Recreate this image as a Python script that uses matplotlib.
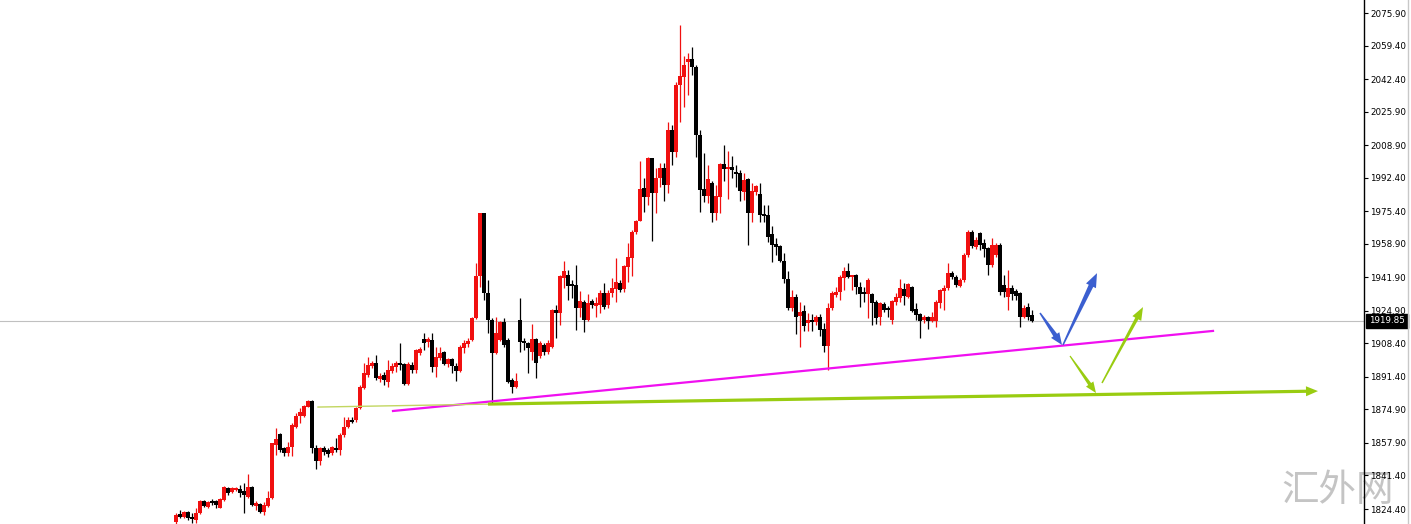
import numpy as np
import matplotlib
matplotlib.use('Agg')
import matplotlib.pyplot as plt
from matplotlib.patches import Polygon
from matplotlib.lines import Line2D
from matplotlib.transforms import blended_transform_factory

# OHLC (one bar every 4 px)
opens = [
    1817.9, 1821.9, 1820.4, 1822.9, 1820.4, 1818.9, 1822.4, 1828.5, 1825.5, 1828.0,
    1828.5, 1825.0, 1829.0, 1835.1, 1833.1, 1834.1, 1834.6, 1833.6, 1830.6, 1835.6,
    1826.0, 1827.0, 1822.9, 1826.0, 1830.0, 1856.9, 1862.5, 1855.4, 1852.8, 1855.9,
    1866.1, 1871.6, 1871.6, 1876.2, 1879.2, 1855.4, 1848.8, 1855.4, 1854.4, 1852.8,
    1855.4, 1854.4, 1862.0, 1866.0, 1869.6, 1869.6, 1875.6, 1885.8, 1892.4, 1896.9,
    1898.5, 1890.3, 1892.4, 1888.8, 1894.4, 1896.4, 1898.5, 1898.0, 1887.8, 1897.4,
    1894.9, 1903.5, 1910.6, 1909.1, 1910.1, 1896.4, 1901.0, 1904.0, 1898.0, 1900.5,
    1896.9, 1894.4, 1906.1, 1908.1, 1910.1, 1921.3, 1942.6, 1974.5, 1934.0, 1920.3,
    1903.5, 1910.1, 1919.3, 1910.1, 1889.8, 1886.3, 1920.3, 1909.6, 1908.6, 1904.0,
    1910.6, 1902.0, 1907.6, 1904.0, 1906.6, 1925.3, 1923.8, 1941.6, 1943.1, 1938.5,
    1938.0, 1926.3, 1929.4, 1920.3, 1929.9, 1927.4, 1927.9, 1933.9, 1927.9, 1933.9,
    1936.0, 1939.0, 1936.0, 1947.1, 1951.7, 1964.9, 1970.5, 1987.2, 1982.6, 2002.4,
    1984.7, 1992.3, 1997.3, 1988.7, 2016.6, 2005.4, 2039.4, 2043.5, 2051.1, 2052.6,
    2048.5, 2014.1, 1986.7, 1983.1, 1989.7, 1974.5, 1982.6, 1999.4, 1996.8, 1997.8,
    1994.8, 1994.8, 1985.2, 1991.7, 1974.5, 1985.2, 1984.1, 1974.0, 1973.5, 1963.9,
    1958.8, 1957.8, 1950.2, 1941.1, 1926.3, 1931.9, 1922.3, 1924.8, 1918.7, 1920.3,
    1919.3, 1921.8, 1915.7, 1907.1, 1926.3, 1932.9, 1934.4, 1941.6, 1945.1, 1942.1,
    1943.1, 1937.0, 1933.9, 1933.4, 1933.4, 1929.4, 1921.8, 1928.4, 1926.3, 1920.3,
    1929.4, 1931.4, 1936.0, 1931.9, 1937.0, 1925.8, 1923.3, 1920.3, 1921.8, 1919.8,
    1919.8, 1928.9, 1935.0, 1936.5, 1944.1, 1942.1, 1937.5, 1940.5, 1953.2, 1964.9,
    1957.3, 1964.4, 1959.3, 1956.8, 1948.2, 1953.2, 1958.3, 1938.0, 1931.9, 1936.5,
    1935.0, 1934.0, 1921.8, 1926.8, 1922.8,
]
highs = [
    1822.4, 1823.9, 1823.4, 1823.4, 1822.4, 1824.9, 1829.0, 1829.0, 1828.5, 1829.5,
    1829.0, 1830.0, 1836.1, 1835.6, 1835.6, 1835.6, 1836.6, 1837.6, 1842.2, 1836.1,
    1828.5, 1827.5, 1828.0, 1833.6, 1857.9, 1865.5, 1863.0, 1855.9, 1858.4, 1868.1,
    1873.1, 1875.6, 1877.2, 1879.7, 1879.7, 1856.9, 1855.9, 1856.4, 1855.4, 1856.4,
    1860.4, 1863.0, 1871.1, 1871.1, 1871.1, 1876.2, 1887.3, 1898.5, 1901.5, 1899.5,
    1902.5, 1893.4, 1893.9, 1900.0, 1898.5, 1899.5, 1908.6, 1898.5, 1899.0, 1899.0,
    1905.6, 1906.6, 1913.7, 1911.6, 1913.7, 1906.6, 1906.6, 1904.5, 1901.0, 1901.0,
    1898.5, 1907.6, 1910.1, 1911.1, 1921.8, 1949.2, 1974.5, 1974.5, 1940.5, 1921.3,
    1921.8, 1919.8, 1921.3, 1911.1, 1890.8, 1893.4, 1931.4, 1911.1, 1909.1, 1918.2,
    1911.1, 1909.6, 1908.6, 1910.1, 1925.8, 1927.9, 1943.1, 1950.2, 1945.6, 1940.5,
    1948.2, 1935.0, 1930.4, 1933.4, 1930.9, 1931.9, 1935.5, 1939.0, 1935.5, 1941.6,
    1951.7, 1940.5, 1948.2, 1959.3, 1965.9, 1971.0, 2000.9, 1992.3, 2002.9, 2002.4,
    1997.3, 1999.9, 1999.9, 2020.6, 2019.1, 2040.9, 2069.8, 2054.1, 2055.6, 2058.7,
    2049.5, 2016.6, 2004.9, 1998.8, 1990.7, 1988.7, 1999.9, 2009.0, 2005.9, 2003.4,
    1998.8, 1996.3, 1994.8, 1992.3, 1989.7, 1988.7, 1989.7, 1978.6, 1978.6, 1967.9,
    1961.8, 1958.3, 1954.2, 1945.1, 1935.5, 1933.4, 1929.4, 1927.9, 1923.8, 1923.3,
    1922.8, 1923.3, 1918.7, 1928.9, 1935.0, 1937.0, 1943.1, 1947.1, 1949.2, 1943.1,
    1943.6, 1939.5, 1937.0, 1941.6, 1933.9, 1930.4, 1929.4, 1929.4, 1927.4, 1930.4,
    1933.9, 1941.1, 1939.0, 1939.0, 1937.5, 1928.9, 1923.8, 1922.8, 1922.3, 1924.3,
    1930.4, 1936.0, 1938.0, 1949.2, 1945.1, 1943.1, 1941.6, 1954.2, 1965.9, 1965.9,
    1962.3, 1964.9, 1961.3, 1957.3, 1961.8, 1959.3, 1959.3, 1943.1, 1945.6, 1938.0,
    1936.0, 1934.5, 1927.9, 1928.9, 1925.3,
]
lows = [
    1816.9, 1819.9, 1819.9, 1818.9, 1817.4, 1817.4, 1821.9, 1825.5, 1825.0, 1826.5,
    1825.0, 1825.0, 1828.5, 1831.6, 1832.6, 1833.6, 1830.6, 1822.4, 1830.0, 1826.0,
    1823.9, 1822.4, 1821.4, 1825.5, 1829.5, 1851.8, 1853.4, 1851.3, 1851.3, 1851.3,
    1865.5, 1868.1, 1871.1, 1876.2, 1852.8, 1844.7, 1846.8, 1851.8, 1850.8, 1851.8,
    1853.4, 1851.8, 1861.0, 1865.5, 1868.1, 1868.6, 1875.1, 1885.3, 1891.4, 1895.9,
    1889.8, 1888.8, 1887.3, 1886.3, 1893.4, 1893.9, 1894.9, 1887.3, 1887.3, 1893.4,
    1893.4, 1902.5, 1905.1, 1906.6, 1893.9, 1891.4, 1900.0, 1897.4, 1896.4, 1893.4,
    1889.3, 1893.9, 1903.5, 1906.6, 1909.6, 1920.8, 1937.0, 1930.4, 1913.7, 1878.2,
    1903.0, 1909.6, 1906.6, 1888.3, 1883.3, 1885.8, 1904.0, 1905.1, 1893.4, 1900.0,
    1890.8, 1901.0, 1902.5, 1903.0, 1906.1, 1911.1, 1917.7, 1936.5, 1930.4, 1931.4,
    1915.2, 1921.8, 1914.2, 1919.8, 1926.3, 1921.8, 1923.8, 1925.8, 1926.3, 1931.9,
    1929.4, 1934.5, 1934.5, 1939.5, 1942.6, 1963.9, 1970.5, 1975.0, 1978.6, 1960.3,
    1974.5, 1987.7, 1980.6, 1984.7, 1998.8, 2002.9, 2020.6, 2028.2, 2034.3, 2044.5,
    2002.9, 1975.0, 1980.1, 1979.6, 1969.9, 1971.0, 1974.5, 1990.7, 1981.6, 1992.3,
    1987.7, 1980.6, 1981.1, 1958.3, 1969.9, 1983.6, 1969.9, 1969.9, 1959.8, 1949.7,
    1953.2, 1949.7, 1939.0, 1925.3, 1924.8, 1913.2, 1906.6, 1914.7, 1914.7, 1914.7,
    1917.7, 1912.2, 1904.0, 1894.9, 1925.3, 1931.9, 1930.4, 1935.5, 1941.6, 1935.5,
    1933.4, 1926.8, 1929.4, 1921.3, 1917.7, 1918.2, 1917.7, 1924.3, 1921.8, 1918.2,
    1927.9, 1929.4, 1927.9, 1931.4, 1924.3, 1920.3, 1911.1, 1918.7, 1915.7, 1919.3,
    1916.7, 1926.3, 1925.3, 1935.5, 1941.1, 1937.0, 1937.0, 1939.5, 1952.2, 1956.8,
    1956.3, 1955.8, 1952.2, 1943.1, 1947.1, 1952.2, 1932.9, 1931.9, 1925.3, 1930.4,
    1930.4, 1916.7, 1921.3, 1920.3, 1919.3,
]
closes = [
    1821.4, 1820.4, 1822.9, 1819.9, 1819.4, 1822.4, 1828.5, 1826.0, 1828.0, 1827.5,
    1826.5, 1829.5, 1835.6, 1832.6, 1835.1, 1835.1, 1832.6, 1831.6, 1835.6, 1826.5,
    1827.5, 1822.9, 1826.5, 1830.0, 1857.9, 1859.9, 1854.4, 1852.8, 1855.9, 1867.1,
    1871.6, 1873.6, 1876.7, 1879.2, 1855.4, 1848.8, 1855.4, 1853.4, 1852.3, 1855.9,
    1854.4, 1862.0, 1866.0, 1869.6, 1868.6, 1875.6, 1886.3, 1893.4, 1897.4, 1898.5,
    1890.8, 1891.8, 1889.8, 1894.9, 1896.9, 1898.5, 1897.4, 1887.8, 1898.0, 1894.9,
    1905.1, 1905.6, 1908.6, 1910.6, 1896.4, 1901.5, 1903.5, 1898.0, 1900.5, 1896.9,
    1894.4, 1906.6, 1908.6, 1909.6, 1921.3, 1942.6, 1974.5, 1934.0, 1920.3, 1903.5,
    1913.7, 1919.3, 1907.6, 1888.8, 1886.3, 1889.3, 1909.1, 1908.6, 1906.1, 1910.6,
    1898.5, 1908.6, 1904.0, 1908.6, 1925.3, 1923.8, 1942.6, 1945.1, 1937.5, 1937.5,
    1926.3, 1929.9, 1920.3, 1928.9, 1927.9, 1928.9, 1933.9, 1926.8, 1933.9, 1936.5,
    1939.5, 1935.5, 1947.7, 1952.2, 1964.9, 1970.5, 1986.7, 1982.6, 2002.4, 1984.7,
    1992.3, 1997.3, 1988.7, 2016.6, 2005.4, 2039.4, 2044.0, 2049.5, 2052.6, 2048.5,
    2014.1, 1986.2, 1983.1, 1991.7, 1974.5, 1983.1, 1999.4, 1996.8, 1997.8, 1996.3,
    1994.3, 1985.7, 1991.2, 1974.5, 1985.7, 1988.2, 1973.5, 1973.0, 1962.3, 1958.3,
    1957.3, 1950.2, 1941.1, 1926.3, 1931.9, 1921.8, 1924.3, 1917.2, 1920.3, 1919.3,
    1921.8, 1915.2, 1907.1, 1926.3, 1933.9, 1934.4, 1942.1, 1945.1, 1942.1, 1943.1,
    1937.0, 1933.4, 1933.4, 1940.5, 1928.9, 1921.3, 1928.9, 1925.3, 1925.3, 1929.9,
    1931.9, 1936.5, 1932.4, 1938.5, 1924.8, 1922.8, 1919.8, 1921.8, 1919.8, 1921.8,
    1929.4, 1935.5, 1936.5, 1944.1, 1942.1, 1938.0, 1940.5, 1953.2, 1964.9, 1957.8,
    1960.8, 1958.3, 1956.3, 1948.2, 1958.3, 1958.3, 1934.5, 1934.5, 1936.5, 1933.4,
    1932.4, 1921.8, 1926.3, 1921.8, 1919.85,
]

price_ticks = [2075.90, 2059.40, 2042.40, 2025.90, 2008.90, 1992.40, 1975.40, 1958.90,
               1941.90, 1924.90, 1908.40, 1891.40, 1874.90, 1857.90, 1841.40, 1824.40]

# drawn lines (bar index, price)
magenta_line = [(54.25, 1874.1), (259.25, 1914.7)]
thin_line = [(35.5, 1876.1), (78.5, 1877.6)]
green_line = [(78.0, 1877.6), (285.5, 1884.2)]
blue_arrows = [[(216.0, 1923.8), (221.5, 1907.6)], [(221.75, 1907.6), (230.25, 1944.0)]]
green_arrows = [[(223.5, 1902.0), (230.0, 1883.2)], [(231.5, 1888.3), (241.75, 1926.8)]]

UP = '#f01010'
DOWN = '#000000'


def tapered_arrow(ax, start, end, color, w_tail, w_neck, head_w, head_len):
    # build the arrow in pixels, then map back to data
    p0 = ax.transData.transform(start)
    p1 = ax.transData.transform(end)
    d = p1 - p0
    u = d / np.hypot(*d)
    n = np.array([-u[1], u[0]])
    neck = p1 - u * head_len
    pts = np.array([p0 + n * w_tail / 2, neck + n * w_neck / 2, neck + n * head_w / 2, p1,
                    neck - n * head_w / 2, neck - n * w_neck / 2, p0 - n * w_tail / 2])
    pts = ax.transData.inverted().transform(pts)
    ax.add_patch(Polygon(pts, closed=True, fc=color, ec='none', zorder=6))


fig = plt.figure(figsize=(14.11, 5.24), dpi=100, facecolor='white')
ax = fig.add_axes([0, 0, 1364 / 1411, 1])
ax.patch.set_alpha(0)  # let the watermark show through
ax.set_xlim(-44, 297)
ax.set_ylim(1816.8, 2082.5)

idx = np.arange(len(closes))
o = np.array(opens)
h = np.array(highs)
l = np.array(lows)
c = np.array(closes)
cols = [UP if cc >= oo else DOWN for oo, cc in zip(o, c)]

ax.vlines(idx, l, h, colors=cols, lw=0.9, zorder=3)
body = np.maximum(np.abs(c - o), 0.8)
ax.bar(idx, body, bottom=np.minimum(o, c), width=0.8, color=cols, linewidth=0, zorder=4)

# current price line
last = closes[-1]
ax.axhline(last, color='#c0c0c0', lw=0.8, zorder=1)

# trend lines
ax.plot(*zip(*magenta_line), color='#f010f0', lw=1.6, zorder=5)
ax.plot(*zip(*thin_line), color='#c2d660', lw=1.0, zorder=5)
tapered_arrow(ax, green_line[0], green_line[1], '#99cc11', 3.2, 3.2, 10, 12)
tapered_arrow(ax, blue_arrows[0][0], blue_arrows[0][1], '#3b5fd0', 1.5, 4.5, 10, 12)
tapered_arrow(ax, blue_arrows[1][0], blue_arrows[1][1], '#3b5fd0', 1.5, 5, 11, 14)
tapered_arrow(ax, green_arrows[0][0], green_arrows[0][1], '#99cc11', 1.2, 3.5, 9, 11)
tapered_arrow(ax, green_arrows[1][0], green_arrows[1][1], '#99cc11', 1.5, 3.5, 10, 13)

# right price scale
for s in ['left', 'top', 'bottom']:
    ax.spines[s].set_visible(False)
ax.spines['right'].set_color('black')
ax.spines['right'].set_linewidth(1.0)
ax.set_xticks([])
ax.yaxis.tick_right()
ax.set_yticks(price_ticks)
ax.set_yticklabels([f'{v:.2f}' for v in price_ticks])
ax.tick_params(axis='y', length=3, width=0.8, pad=1.5, labelsize=6.3, colors='black')

trans = blended_transform_factory(ax.transAxes, ax.transData)
ax.text(1 + 5 / 1364, last, f'{last:.2f}', transform=trans, color='white', fontsize=6.3,
        ha='left', va='center', clip_on=False,
        bbox=dict(boxstyle='square,pad=0.3', fc='black', ec='black'))

fig.add_artist(Line2D([1408 / 1411] * 2, [0, 1], transform=fig.transFigure, color='#c8c8c8', lw=1))

# watermark, under the price scale like in the source
fig.text(1338 / 1411, 34 / 524, '汇外网', fontsize=27, color='#c4c4c4', ha='center', va='center',
         family=['Noto Sans CJK SC', 'DejaVu Sans'], zorder=-1)

fig.savefig('out.png', dpi=100, facecolor='white')
